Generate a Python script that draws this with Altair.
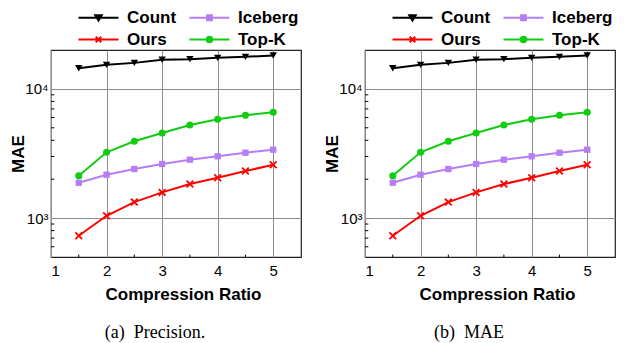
import altair as alt
import pandas as pd

ratios = [1.5, 2, 2.5, 3, 3.5, 4, 4.5, 5]
count_mae = [14460, 15350, 15900, 16790, 16990, 17390, 17700, 18120]
iceberg_mae = [1879, 2166, 2398, 2622, 2832, 3008, 3206, 3383]
ours_mae = [730, 1042, 1330, 1581, 1835, 2053, 2312, 2588]
topk_mae = [2128, 3230, 3934, 4560, 5260, 5820, 6250, 6596]

series_names = ["Count", "Iceberg", "Ours", "Top-K"]
series_colors = ["#000000", "#B57EF5", "#FF0000", "#11CC11"]
legend_order = ["Count", "Ours", "Iceberg", "Top-K"]

x_ticks = [1, 2, 3, 4, 5]
y_ticks = [1000, 10000]
y_minor = [600, 700, 800, 900, 2000, 3000, 4000, 5000, 6000, 7000, 8000, 9000]
x_minor = [1.5, 2.5, 3.5, 4.5]
captions = ["(a)\u2002Precision.", "(b)\u2002MAE"]

rows = []
for name, vals in zip(series_names, [count_mae, iceberg_mae, ours_mae, topk_mae]):
    for r, v in zip(ratios, vals):
        rows.append({"series": name, "ratio": r, "mae": v})
df = pd.DataFrame(rows)

color_of = dict(zip(series_names, series_colors))

marker_specs = {
    "Count": dict(shape="triangle-down", filled=True, size=55),
    "Iceberg": dict(shape="square", filled=True, size=40),
    "Ours": dict(shape="M-1,-1L1,1M-1,1L1,-1", filled=False, size=45, strokeWidth=1.8),
    "Top-K": dict(shape="circle", filled=True, size=50),
}
legend_paths = {
    "Count": "M-5,0H5M-0.8,-0.6H0.8L0,0.7Z",
    "Iceberg": "M-5,0H5M-0.6,-0.6H0.6V0.6H-0.6Z",
    "Ours": "M-5,0H5M-0.7,-0.7L0.7,0.7M-0.7,0.7L0.7,-0.7",
    "Top-K": "M-5,0H5M-0.7,0A0.7,0.7,0,1,0,0.7,0A0.7,0.7,0,1,0,-0.7,0Z",
}

PLOT_W = 250
PLOT_H = 207


def make_legend():
    return alt.Legend(
        orient="none", legendX=39, legendY=-41, columns=2, title=None,
        padding=0, labelFont="Liberation Sans", labelFontSize=17,
        labelFontWeight="bold", labelColor="black", symbolSize=64,
        symbolStrokeWidth=2, labelOffset=20, columnPadding=8, rowPadding=4,
        symbolOpacity=1,
    )


def panel(caption):
    xs = alt.Scale(domain=[1, 5.5], nice=False, zero=False)
    ys = alt.Scale(type="log", domain=[500, 20000], nice=False)
    xaxis = alt.Axis(values=x_ticks, format="d", title="Compression Ratio",
                     grid=True, ticks=False, domain=False, labelPadding=6,
                     titlePadding=8, titleX=132)
    yaxis = alt.Axis(values=y_ticks,
                     labelExpr="datum.value >= 10000 ? '10\u2074' : '10\u00b3'",
                     title="MAE", grid=True, ticks=False, domain=False,
                     labelPadding=3, titlePadding=0, minExtent=24, maxExtent=24)
    base = alt.Chart(df)
    lines = base.mark_line(strokeWidth=2).encode(
        x=alt.X("ratio:Q", scale=xs, axis=xaxis),
        y=alt.Y("mae:Q", scale=ys, axis=yaxis),
        color=alt.Color("series:N", scale=alt.Scale(domain=series_names, range=series_colors), legend=None),
    )
    layers = [lines]
    for name, col in zip(series_names, series_colors):
        spec = marker_specs[name]
        layers.append(
            base.transform_filter(alt.datum.series == name)
            .mark_point(color=col, opacity=1, **spec)
            .encode(x="ratio:Q", y="mae:Q")
        )
    leg_colors = [color_of[n] for n in legend_order]
    leg_paths = [legend_paths[n] for n in legend_order]
    leg = base.mark_point(filled=True, opacity=0).encode(
        x="ratio:Q", y="mae:Q",
        fill=alt.Fill("series:N", scale=alt.Scale(domain=legend_order, range=leg_colors), legend=make_legend()),
        stroke=alt.Stroke("series:N", scale=alt.Scale(domain=legend_order, range=leg_colors), legend=make_legend()),
        shape=alt.Shape("series:N", scale=alt.Scale(domain=legend_order, range=leg_paths), legend=make_legend()),
    )
    layers.append(leg)
    ymin = alt.Chart(pd.DataFrame({"v": y_minor})).mark_rule(color="black", strokeWidth=1).encode(
        y=alt.Y("v:Q"), x=alt.datum(1), x2=alt.datum(1.06)
    )
    xmin = alt.Chart(pd.DataFrame({"u": x_minor})).mark_rule(color="black", strokeWidth=1).encode(
        x=alt.X("u:Q"), y=alt.datum(500), y2=alt.datum(522)
    )
    layers += [ymin, xmin]
    return alt.layer(*layers).properties(
        width=PLOT_W, height=PLOT_H,
        title=alt.TitleParams(text=caption, orient="bottom", anchor="middle", frame="bounds",
                              font="Liberation Serif", fontSize=18, fontWeight="normal",
                              color="black", offset=22),
    )


chart = alt.hconcat(panel(captions[0]), panel(captions[1]), spacing=20).resolve_scale(
    fill="independent", stroke="independent", shape="independent"
).resolve_legend(
    fill="independent", stroke="independent", shape="independent"
).properties(padding=0).configure_view(
    stroke="#222222", strokeWidth=1.2
).configure_axis(
    labelFont="Liberation Sans", labelFontSize=15, labelColor="black",
    titleFont="Liberation Sans", titleFontSize=17, titleFontWeight="bold", titleColor="black",
    gridColor="#8c8c8c", gridWidth=1,
)

chart.save("out.html", embed_options={"renderer": "svg", "actions": False})
